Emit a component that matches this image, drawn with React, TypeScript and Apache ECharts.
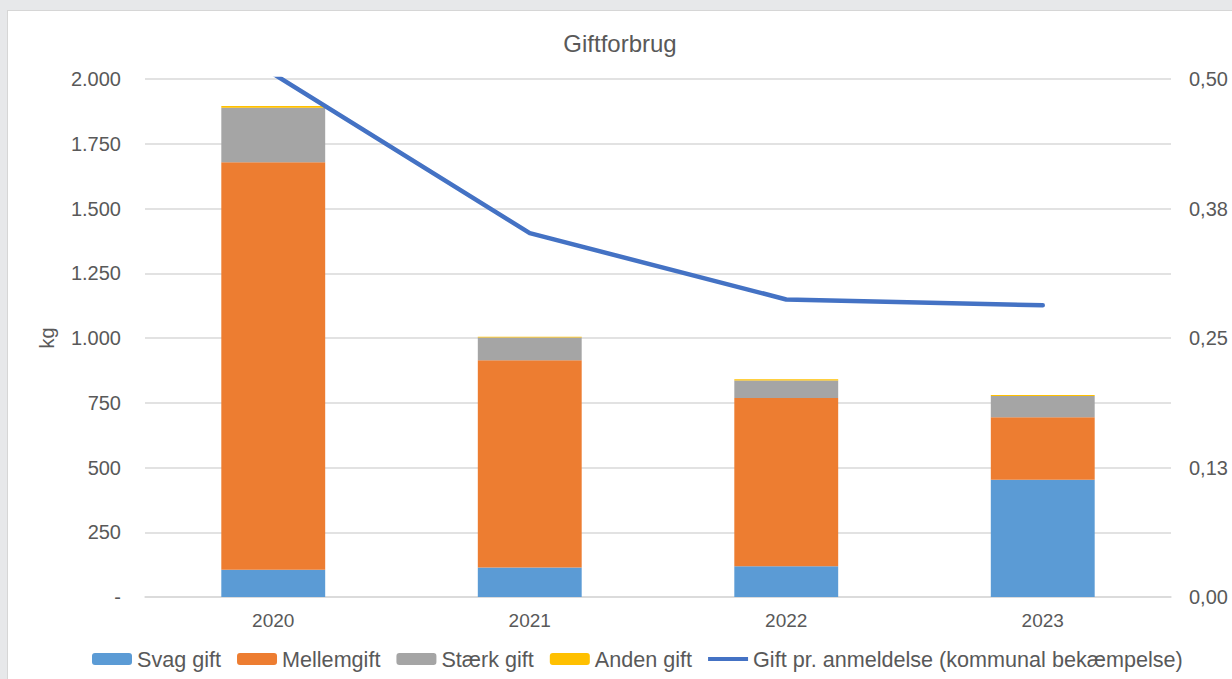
import React, { useEffect, useRef } from "react";
import * as echarts from "echarts";

const years = ["2020", "2021", "2022", "2023"];
const svagGift = [105, 114, 119, 453];
const mellemGift = [1574, 800, 649, 241];
const staerkGift = [210, 88, 68, 82];
const andenGift = [7, 3, 5, 4];
const giftPrAnmeldelse = [0.505, 0.3512, 0.2872, 0.2816];

const leftTicks = { min: 0, max: 2000, interval: 250 };
const rightTicks = { min: 0, max: 0.5, interval: 0.125 };

const FONT = "'Liberation Sans', Arial, sans-serif";
const TXT = "#595959";
const LINE_NAME = "Gift pr. anmeldelse (kommunal bekæmpelse)";

export default function App() {
  const ref = useRef<HTMLDivElement>(null);
  useEffect(() => {
    if (!ref.current) return;
    const chart = echarts.init(ref.current, null, { renderer: "svg" });
    const barBase = {
      type: "bar" as const,
      stack: "total",
      barWidth: "40.5%",
      yAxisIndex: 0,
    };
    chart.setOption({
      animation: false,
      textStyle: { fontFamily: FONT, color: TXT },
      title: {
        text: "Giftforbrug",
        left: "center",
        top: 15,
        textStyle: { fontFamily: FONT, fontSize: 24, fontWeight: "normal", color: TXT },
      },
      legend: {
        left: 79,
        bottom: 4,
        itemWidth: 40,
        itemHeight: 12,
        itemGap: 16,
        textStyle: { fontFamily: FONT, fontSize: 21.6, color: TXT },
        data: [
          "Svag gift",
          "Mellemgift",
          "Stærk gift",
          "Anden gift",
          { name: LINE_NAME, icon: "path://M0,0 L40,0 L40,4 L0,4 Z" },
        ],
      },
      grid: { left: 137, right: 61, top: 68, bottom: 82 },
      xAxis: {
        type: "category",
        data: years,
        axisLine: { lineStyle: { color: "#d9d9d9", width: 1.5 } },
        axisTick: { show: false },
        axisLabel: { color: TXT, fontFamily: FONT, fontSize: 19, margin: 14 },
      },
      yAxis: [
        {
          type: "value",
          min: leftTicks.min,
          max: leftTicks.max,
          interval: leftTicks.interval,
          name: "kg",
          nameLocation: "middle",
          nameGap: 88,
          nameRotate: 90,
          nameTextStyle: { color: TXT, fontFamily: FONT, fontSize: 20 },
          axisLine: { show: false },
          axisTick: { show: false },
          splitLine: { lineStyle: { color: "#d9d9d9", width: 1.5 } },
          axisLabel: {
            color: TXT,
            fontFamily: FONT,
            fontSize: 20,
            margin: 24,
            formatter: (v: number) =>
              v === 0 ? "-" : String(v).replace(/\B(?=(\d{3})+(?!\d))/g, "."),
          },
        },
        {
          type: "value",
          min: rightTicks.min,
          max: rightTicks.max,
          interval: rightTicks.interval,
          axisLine: { show: false },
          axisTick: { show: false },
          splitLine: { show: false },
          axisLabel: {
            color: TXT,
            fontFamily: FONT,
            fontSize: 20,
            margin: 18,
            formatter: (v: number) => v.toFixed(2).replace(".", ","),
          },
        },
      ],
      series: [
        { ...barBase, name: "Svag gift", data: svagGift, itemStyle: { color: "#5B9BD5" } },
        { ...barBase, name: "Mellemgift", data: mellemGift, itemStyle: { color: "#ED7D31" } },
        { ...barBase, name: "Stærk gift", data: staerkGift, itemStyle: { color: "#A5A5A5" } },
        { ...barBase, name: "Anden gift", data: andenGift, itemStyle: { color: "#FFC000" } },
        {
          type: "line",
          name: LINE_NAME,
          yAxisIndex: 1,
          data: giftPrAnmeldelse,
          symbol: "none",
          clip: true,
          lineStyle: { color: "#4472C4", width: 4.5, cap: "round", join: "round" },
          itemStyle: { color: "#4472C4" },
        },
      ],
    });
    return () => chart.dispose();
  }, []);

  return (
    <div style={{ position: "fixed", left: 0, top: 0, width: 1232, height: 679, background: "#e7e8ea" }}>
      <div
        style={{
          position: "absolute",
          left: 7,
          top: 10,
          width: 1225,
          height: 669,
          background: "#d6d6d6",
        }}
      />
      <div
        ref={ref}
        style={{ position: "absolute", left: 8, top: 11, width: 1224, height: 668, background: "#ffffff" }}
      />
    </div>
  );
}
